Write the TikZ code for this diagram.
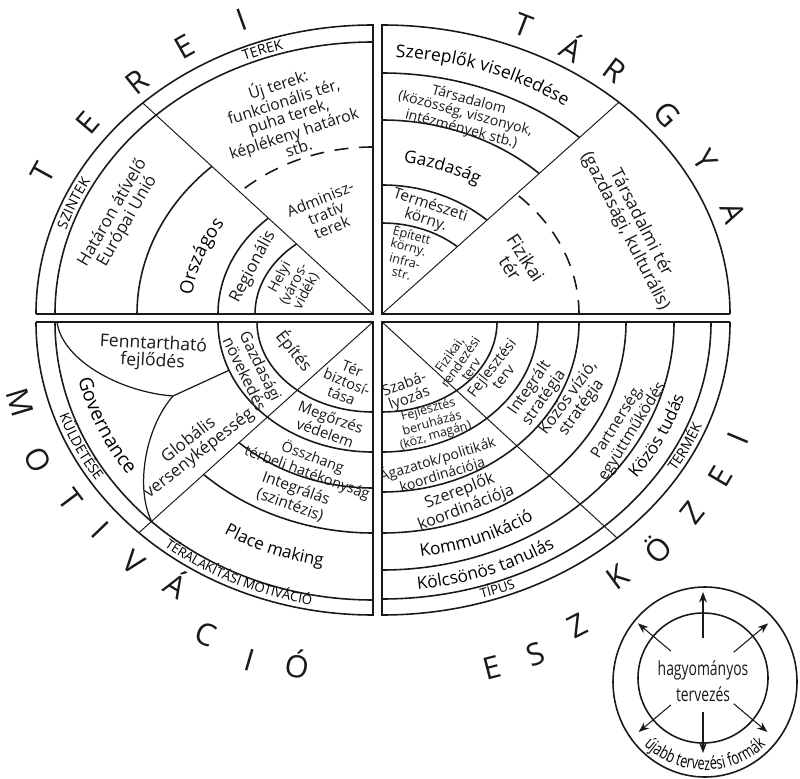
\documentclass[tikz,border=0pt]{standalone}
\usepackage{fontspec}
\setmainfont{Open Sans}
\newfontfamily\condfont[FakeStretch=0.72]{Open Sans}
\usepackage{tikz}
\usetikzlibrary{arrows.meta, decorations.text}
\definecolor{DiagInk}{RGB}{25, 25, 25}

\newcommand\bandfont{\fontsize{8}{8}\selectfont}

\tikzset{
  rim/.style={draw=DiagInk, line width=0.9pt},
  spoke/.style={draw=DiagInk, line width=0.55pt},
  seam/.style={draw=DiagInk, line width=0.7pt},
  dashring/.style={draw=DiagInk, line width=0.9pt, dash pattern=on 8pt off 6pt},
  lbl/.style={align=center, inner sep=0pt, text=DiagInk, font=\fontsize{#1}{#1}\selectfont},
  lbl/.default=9.5,
  bigletter/.style={inner sep=0pt, text=DiagInk, font=\fontsize{17.5}{17.5}\selectfont},
  arctext/.style={decorate, color=DiagInk,
    decoration={text along path, text align=center, text={#1}}},
  growth/.style={draw=DiagInk, line width=0.6pt, -{Stealth[length=6pt, width=4.5pt]}},
}

\begin{document}
\begin{tikzpicture}[x=0.02cm, y=0.02cm]
    \useasboundingbox (0,0) rectangle (800,778);
    \coordinate (C1) at (373,464);
    \coordinate (C2) at (382,464);
    \coordinate (C3) at (373,456);
    \coordinate (C4) at (382,456);

    % terei: top left
    \draw[rim] (C1) ++(180:337 and 289) -- (C1) -- ++(0,289)
        arc[start angle=90, end angle=180, x radius=337, y radius=289];
    \draw[rim] (C1) ++(90:318 and 272)
        arc[start angle=90, end angle=180, x radius=318, y radius=272];
    \draw[spoke] (C1) -- ++(133.1:337 and 289);
    \foreach \rx/\ry/\ta in {236/202/133.1, 155/130/132.5, 118/92/130.4}
      \draw[rim] (C1) ++(180:{\rx} and {\ry})
        arc[start angle=180, end angle=\ta, x radius=\rx, y radius=\ry];
    \draw[dashring] (C1) ++(90:195 and 167)
        arc[start angle=90, end angle=133.1, x radius=195, y radius=167];

    % targya: top right
    \draw[rim] (C2) ++(0:348 and 289) -- (C2) -- ++(0,289)
        arc[start angle=90, end angle=0, x radius=348, y radius=289];
    \draw[spoke] (C2) -- ++(47.1:348 and 289);
    \foreach \rx/\ry/\ta in {290/241/47.1, 228/194/46.4, 153/129/46.7, 112/91/47.7}
      \draw[rim] (C2) ++(90:{\rx} and {\ry})
        arc[start angle=90, end angle=\ta, x radius=\rx, y radius=\ry];
    \draw[dashring] (C2) ++(0:197 and 164)
        arc[start angle=0, end angle=47.1, x radius=197, y radius=164];

    % motivacio: bottom left
    \draw[rim] (C3) ++(180:337 and 293) -- (C3) -- ++(0,-293)
        arc[start angle=270, end angle=180, x radius=337, y radius=293];
    \draw[rim] (C3) ++(180:318 and 278)
        arc[start angle=180, end angle=270, x radius=318, y radius=278];
    \draw[spoke] (C3) -- ++(226:337 and 293);
    \foreach \rx/\ry in {155/130, 116/90}
      \draw[rim] (C3) ++(180:{\rx} and {\ry})
        arc[start angle=180, end angle=270, x radius=\rx, y radius=\ry];
    \foreach \rx/\ry/\ta in {195/166/226.6, 245/211/226.3}
      \draw[rim] (C3) ++(\ta:{\rx} and {\ry})
        arc[start angle=\ta, end angle=270, x radius=\rx, y radius=\ry];
    \coordinate (fennstart) at (57,456);
    \coordinate (fork) at (173,382);
    \path (C3) ++(201.8:155 and 130) coordinate (forkarc);
    \path (C3) ++(225.9:318 and 278) coordinate (forkend);
    \draw[seam] (fennstart) .. controls (62,418) and (120,386) .. (fork) -- (forkarc);
    \draw[seam] (fork) .. controls (145,350) and (135,290) .. (forkend);

    % eszkozei: bottom right
    \draw[rim] (C4) ++(0:348 and 293) -- (C4) -- ++(0,-293)
        arc[start angle=270, end angle=360, x radius=348, y radius=293];
    \foreach \rx/\ry in {329/277, 292/248, 244/211, 197/170, 156/130, 115/90}
      \draw[rim] (C4) ++(270:{\rx} and {\ry})
        arc[start angle=270, end angle=360, x radius=\rx, y radius=\ry];
    \draw[spoke] (C4) -- ++(-47.5:348 and 293);

    % band labels
    \path[arctext={|\bandfont|TEREK}] (C1) ++(125:322 and 276)
        arc[start angle=125, end angle=95, x radius=322, y radius=276];
    \path[arctext={|\bandfont|SZINTEK}] (C1) ++(172:322 and 276)
        arc[start angle=172, end angle=142, x radius=322, y radius=276];
    \path[arctext={|\bandfont|KÜLDETÉSE}] (C3) ++(188:332 and 288)
        arc[start angle=188, end angle=224, x radius=332, y radius=288];
    \path[arctext={|\fontsize{7.5}{7.5}\selectfont|TÉRALAKÍTÁSI MOTIVÁCIÓ}] (C3) ++(225:332 and 288)
        arc[start angle=225, end angle=265, x radius=332, y radius=288];
    \path[arctext={|\fontsize{7.5}{7.5}\selectfont|TÍPUS}] (C4) ++(280:343 and 289)
        arc[start angle=280, end angle=300, x radius=343, y radius=289];
    \path[arctext={|\bandfont|TERMÉK}] (C4) ++(322:343 and 289)
        arc[start angle=322, end angle=346, x radius=343, y radius=289];

    % top left labels
    \node[lbl=9, rotate=18] (ujterek) at (288,663) {Új terek:\\funkcionális tér,\\puha terek,\\képlékeny határok\\stb.};
    \node[lbl=8.8, rotate=22] (admin) at (326,565) {Adminisz-\\tratív\\terek};
    \node[lbl=9.6, rotate=60] (hataron) at (120,561) {Határon átívelő\\Európai Unió};
    \path[arctext={|\fontsize{10.5}{10.5}\selectfont|Országos}] (C1) ++(177:182 and 155)
        arc[start angle=177, end angle=141, x radius=182, y radius=155];
    \node[lbl=9.5, rotate=62] (regio) at (253,511) {Regionális};
    \node[lbl=8, rotate=62] (helyi) at (293,494) {Helyi\\(város-\\vidék)};

    % top right labels
    \path[arctext={|\fontsize{10}{10}\selectfont|Szereplők viselkedése}] (C2) ++(92:310 and 257)
        arc[start angle=92, end angle=49, x radius=310, y radius=257];
    \node[lbl=8, rotate=-15] (tarsad) at (465,663) {Társadalom\\(közösség, viszonyok,\\intézmények stb.)};
    \path[arctext={|\fontsize{9.8}{9.8}\selectfont|Gazdaság}] (C2) ++(88:181 and 152)
        arc[start angle=88, end angle=53, x radius=181, y radius=152];
    \node[lbl=8.7, rotate=-18] (termesz) at (428,565) {Természeti\\körny.};
    \node[lbl=7.2, rotate=-15] (epitett) at (407,525) {Épített\\körny.\\infra-\\str.};
    \node[lbl=10.5, rotate=-57] (fizikai) at (518,515) {Fizikai\\tér};
    \node[lbl=10, rotate=-63] (tarster) at (633,551) {Társadalmi tér\\(gazdasági, kulturális)};

    % bottom left labels
    \node[lbl=10, rotate=-3] (fennt) at (153,425) {Fenntartható\\fejlődés};
    \path[arctext={|\fontsize{11}{11}\selectfont|Governance}] (C3) ++(186:302 and 262)
        arc[start angle=186, end angle=222, x radius=302, y radius=262];
    \node[lbl=9.6, rotate=38] (global) at (194,331) {Globális\\versenyképesség};
    \node[lbl=9, rotate=-64] (gazdnov) at (253,408) {Gazdasági\\növekedés};
    \node[lbl=9.5, rotate=-52] (epites) at (294,427) {Építés};
    \node[lbl=8.3, rotate=-22] (terbiz) at (347,396) {Tér\\biztosí-\\tása};
    \node[lbl=8.5, rotate=-20] (megorz) at (328,353) {Megőrzés\\védelem};
    \node[lbl=8.2, rotate=-20] (osszh) at (310,313) {Összhang\\térbeli hatékonyság};
    \node[lbl=8.8, rotate=-20] (integr) at (293,281) {Integrálás\\(szintézis)};
    \path[arctext={|\fontsize{9.7}{9.7}\selectfont|Place making}] (C3) ++(229:286 and 248)
        arc[start angle=229, end angle=269, x radius=286, y radius=248];

    % bottom right labels
    \node[lbl=8.5, rotate=20] (szabaly) at (407,386) {Szabá-\\lyozás};
    \node[lbl=7.4, rotate=55] (rendez) at (460,416) {Fizikai,\\rendezési\\terv};
    \node[lbl=7.1, rotate=16] (beruh) at (432,355) {Fejlesztés\\beruházás\\(köz, magán)};
    \node[lbl=8.3, rotate=52] (fejlterv) at (497,406) {Fejlesztési\\terv};
    \node[lbl=8, rotate=17] (agazat) at (440,311) {Ágazatok/politikák\\koordinációja};
    \node[lbl=9, rotate=55] (integstr) at (537,385) {Integrált\\stratégia};
    \node[lbl=9.2, rotate=21] (szerkoord) at (463,278) {Szereplők\\koordinációja};
    \node[lbl=9.2, rotate=54] (vizio) at (575,375) {Közös vízió,\\stratégia};
    \path[arctext={|\fontsize{9.8}{9.8}\selectfont|Kommunikáció}] (C4) ++(271:275 and 237)
        arc[start angle=271, end angle=311, x radius=275, y radius=237];
    \node[lbl=8.9, rotate=58] (partner) at (625,351) {Partnerség,\\együttműködés};
    \path[arctext={|\fontsize{9.8}{9.8}\selectfont|Kölcsönös tanulás}] (C4) ++(268:317 and 269)
        arc[start angle=268, end angle=312, x radius=317, y radius=269];
    \path[arctext={|\fontsize{9.7}{9.7}\selectfont|Közös tudás}] (C4) ++(318:315 and 266)
        arc[start angle=318, end angle=350, x radius=315, y radius=266];

    % letters round the ellipse
    \foreach \ltr/\lx/\ly/\la [count=\i] in {T/43/605/61.2, E/88/655/49.5, R/137/696/38.8,
        E/185/731/29.3, I/242/758/19.8, T/523/753/-21.3, Á/573/731/-29.5, R/615/708/-37,
        G/667/663/-48.2, Y/705/618/-58.4, A/733/565/-69.5, M/20/375/-73.2, O/38/318/-62.1,
        T/70/278/-53.1, I/100/248/-46, V/133/215/-38.2, Á/177/195/-30.8, C/206/144/-23.2,
        I/250/118/-16.4, Ó/298/114/-10.3, E/492/110/14.4, S/536/124/20.3, Z/577/152/27,
        K/618/201/36.1, Ö/657/230/43.7, Z/692/265/51.7, E/720/301/59.4, I/738/340/67.1}
      \node[bigletter, rotate=\la] (big\i) at (\lx,\ly) {\ltr};

    % hagyomanyos -> ujabb tervezesi formak
    \coordinate (hub) at (703,100);
    \coordinate (ringc) at (705,96);
    \draw[rim] (hub) circle[radius=65];
    \draw[rim] (ringc) circle[x radius=92, y radius=95];
    \node[lbl, font=\condfont\fontsize{11}{15}\selectfont] (trad) at (703,97) {hagyományos\\tervezés};
    \foreach \ang/\ra/\rb [count=\i] in {90/40/86, 140/42/85, 40/40/85, 220/42/84, 320/40/84, 270/34/75} {
      \path (hub) ++(\ang:\ra) coordinate (tail\i);
      \path (hub) ++(\ang:\rb) coordinate (tip\i);
      \draw[growth] (tail\i) -- (tip\i);
    }
    \path[arctext={|\condfont\fontsize{10}{10}\selectfont|újabb tervezési formák}] (ringc) ++(205:88)
        arc[start angle=205, end angle=335, radius=88];
\end{tikzpicture}
\end{document}
